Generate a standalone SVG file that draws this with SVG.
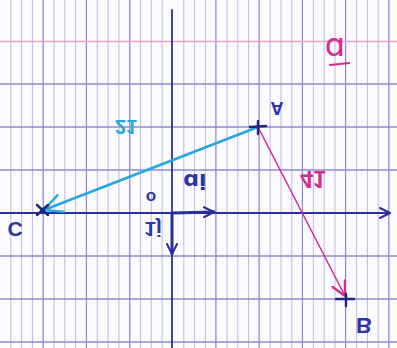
<svg xmlns="http://www.w3.org/2000/svg" width="397" height="348" viewBox="0 0 397 348">
<style>
.minor{stroke:#bdb9e6;stroke-width:1}
.major{stroke:#8f8bd2;stroke-width:1.3}
.axis{stroke:#2b2f9c;stroke-width:1.8;fill:none;stroke-linecap:round}
.unit{stroke:#2b2f9c;stroke-width:3;fill:none;stroke-linecap:round}
.lbl{font-family:"Liberation Sans",Arial,sans-serif;fill:#2d33a8;font-weight:bold}
.cross{stroke:#1f2580;stroke-width:2.4;stroke-linecap:round}
</style>
<defs>
<marker id="chevBlue" viewBox="0 0 12 12" refX="11" refY="6" markerWidth="12" markerHeight="12" markerUnits="userSpaceOnUse" orient="auto">
<path d="M1,1 L11,6 L1,11" fill="none" stroke="#2b2f9c" stroke-width="2" stroke-linecap="round" stroke-linejoin="round"/>
</marker>
<marker id="chevCyan" viewBox="0 0 20 20" refX="19" refY="10" markerWidth="20" markerHeight="20" markerUnits="userSpaceOnUse" orient="auto">
<path d="M1,1 L19,10 L1,19" fill="none" stroke="#27a7e0" stroke-width="2.4" stroke-linecap="round" stroke-linejoin="round"/>
</marker>
<marker id="chevPink" viewBox="0 0 16 16" refX="15" refY="8" markerWidth="16" markerHeight="16" markerUnits="userSpaceOnUse" orient="auto">
<path d="M1,1 L15,8 L1,15" fill="none" stroke="#d42a90" stroke-width="2.2" stroke-linecap="round" stroke-linejoin="round"/>
</marker>
</defs>
<rect x="0" y="0" width="397" height="348" fill="#fbfbfe"/>
<g id="grid">
<g class="minor">
<line x1="10.8" y1="0" x2="10.8" y2="348"/><line x1="21.6" y1="0" x2="21.6" y2="348"/><line x1="32.4" y1="0" x2="32.4" y2="348"/>
<line x1="54" y1="0" x2="54" y2="348"/><line x1="64.8" y1="0" x2="64.8" y2="348"/><line x1="75.6" y1="0" x2="75.6" y2="348"/>
<line x1="97.3" y1="0" x2="97.3" y2="348"/><line x1="108.1" y1="0" x2="108.1" y2="348"/><line x1="118.9" y1="0" x2="118.9" y2="348"/>
<line x1="140.5" y1="0" x2="140.5" y2="348"/><line x1="151.3" y1="0" x2="151.3" y2="348"/><line x1="162.1" y1="0" x2="162.1" y2="348"/>
<line x1="183.8" y1="0" x2="183.8" y2="348"/><line x1="194.6" y1="0" x2="194.6" y2="348"/><line x1="205.4" y1="0" x2="205.4" y2="348"/>
<line x1="227" y1="0" x2="227" y2="348"/><line x1="237.8" y1="0" x2="237.8" y2="348"/><line x1="248.6" y1="0" x2="248.6" y2="348"/>
<line x1="270.2" y1="0" x2="270.2" y2="348"/><line x1="281" y1="0" x2="281" y2="348"/><line x1="291.8" y1="0" x2="291.8" y2="348"/>
<line x1="313.4" y1="0" x2="313.4" y2="348"/><line x1="324.2" y1="0" x2="324.2" y2="348"/><line x1="335" y1="0" x2="335" y2="348"/>
<line x1="356.6" y1="0" x2="356.6" y2="348"/><line x1="367.4" y1="0" x2="367.4" y2="348"/><line x1="378.2" y1="0" x2="378.2" y2="348"/>
</g>
<g class="major">
<line x1="43.2" y1="0" x2="43.2" y2="348"/><line x1="86.4" y1="0" x2="86.4" y2="348"/><line x1="129.7" y1="0" x2="129.7" y2="348"/>
<line x1="215.9" y1="0" x2="215.9" y2="348"/><line x1="259.1" y1="0" x2="259.1" y2="348"/><line x1="302.4" y1="0" x2="302.4" y2="348"/>
<line x1="345.6" y1="0" x2="345.6" y2="348"/><line x1="388.8" y1="0" x2="388.8" y2="348"/>
<line x1="0" y1="84" x2="397" y2="84"/><line x1="0" y1="127" x2="397" y2="127"/><line x1="0" y1="170" x2="397" y2="170"/>
<line x1="0" y1="256" x2="397" y2="256"/><line x1="0" y1="299" x2="397" y2="299"/><line x1="0" y1="342" x2="397" y2="342"/>
</g>
<line x1="0" y1="41.5" x2="397" y2="41.5" stroke="#eaa3c6" stroke-width="1.4"/>
</g>
<g id="axes">
<line class="axis" x1="172" y1="10" x2="172" y2="348"/>
<line class="axis" x1="0" y1="213" x2="390" y2="213" marker-end="url(#chevBlue)"/>
</g>
<g id="connectors">
<line x1="172" y1="213" x2="214" y2="212" class="unit" marker-end="url(#chevBlue)"/>
<line x1="172" y1="213" x2="172" y2="254" class="unit" marker-end="url(#chevBlue)"/>
<line x1="258" y1="127" x2="44" y2="210" stroke="#27a7e0" stroke-width="2.6" stroke-linecap="round" marker-end="url(#chevCyan)"/>
<line x1="258" y1="127" x2="345" y2="296" stroke="#d42a90" stroke-width="1.5" stroke-linecap="round" marker-end="url(#chevPink)"/>
</g>
<g id="node-A">
<line class="cross" x1="250" y1="127" x2="266" y2="126"/><line class="cross" x1="258" y1="121" x2="258" y2="134"/>
<text class="lbl" font-size="18" text-anchor="middle" transform="translate(277,102) scale(1,-1)">A</text>
</g>
<g id="node-B">
<line class="cross" x1="336" y1="299" x2="354" y2="299"/><line class="cross" x1="346" y1="294" x2="346" y2="306"/>
<text class="lbl" font-size="22" text-anchor="middle" transform="translate(364,318) scale(1,-1)">B</text>
</g>
<g id="node-C">
<line class="cross" x1="37" y1="205" x2="48" y2="215"/><line class="cross" x1="37" y1="215" x2="48" y2="205"/>
<text class="lbl" font-size="21" text-anchor="middle" transform="translate(15,222) scale(1,-1)">C</text>
</g>
<g id="node-O">
<text class="lbl" font-size="17" text-anchor="middle" x="151" y="201">o</text>
</g>
<g id="labels">
<text class="lbl" font-size="22" text-anchor="middle" transform="translate(195,174) scale(1,-1)" style="font-family:'DejaVu Sans',sans-serif">ɑi</text>
<text class="lbl" font-size="21" text-anchor="middle" transform="translate(153,222) scale(1,-1)">1j</text>
<text font-size="20" font-weight="bold" fill="#27a7e0" font-family="Liberation Sans, Arial, sans-serif" text-anchor="middle" transform="translate(126,120) scale(1,-1)">21</text>
<text font-size="23" font-weight="bold" fill="#d42a90" font-family="Liberation Sans, Arial, sans-serif" text-anchor="middle" transform="translate(313,171) scale(1,-1)">41</text>
<text font-size="32" fill="#d42a90" font-family="DejaVu Sans, sans-serif" text-anchor="middle" x="335" y="56">ɑ</text>
<line x1="330" y1="65" x2="349" y2="63" stroke="#d42a90" stroke-width="2" stroke-linecap="round"/>
</g>
</svg>
